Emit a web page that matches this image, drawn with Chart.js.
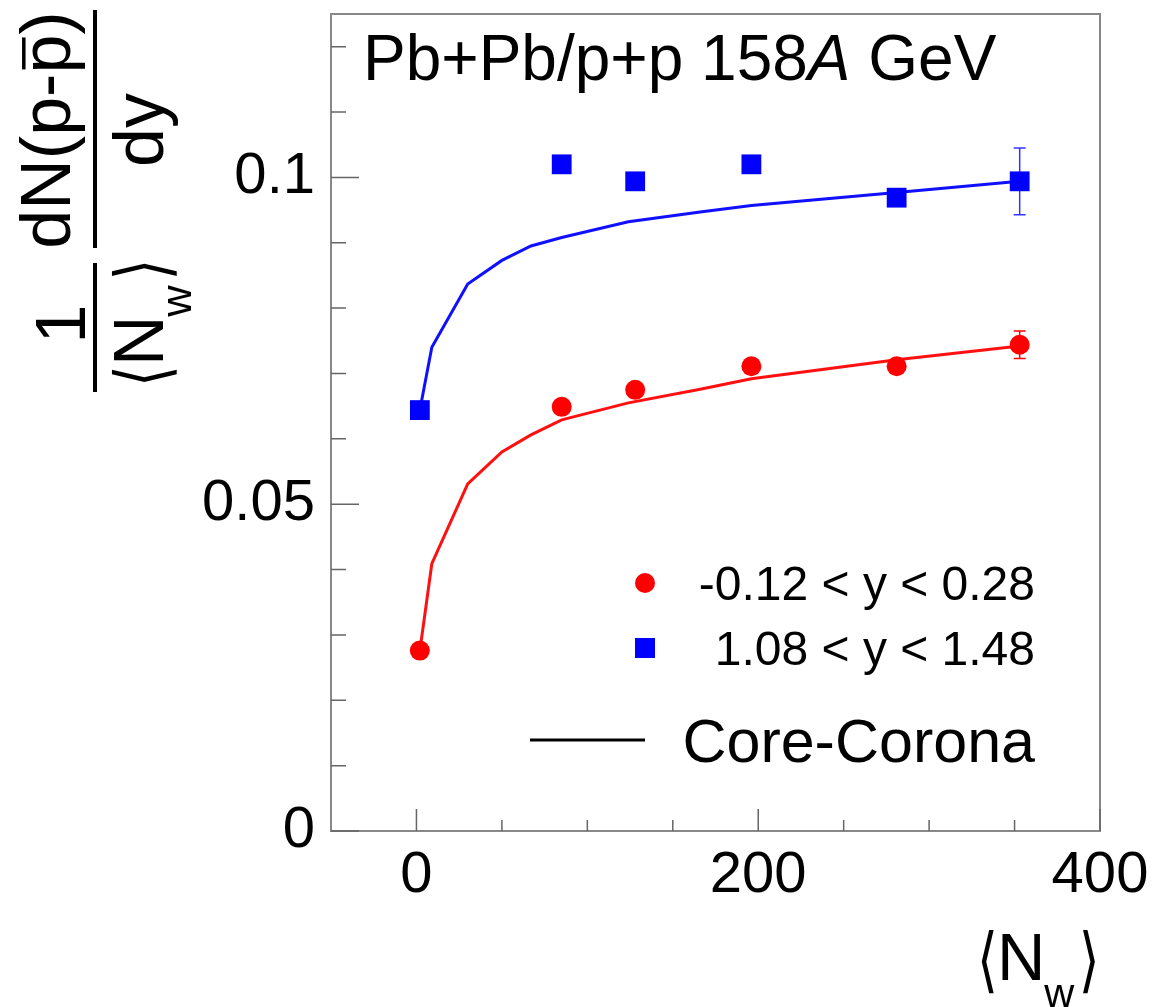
<!DOCTYPE html>
<html>
<head>
<meta charset="utf-8">
<script src="https://cdn.jsdelivr.net/npm/chart.js@4.4.1/dist/chart.umd.min.js"></script>
<style>
  html, body { margin: 0; padding: 0; background: #fff; overflow: hidden; }
  #box { width: 1155px; height: 1007px; }
</style>
</head>
<body>
<div id="box"><canvas id="graph"></canvas></div>
<script>
// mesures : <Nw> des classes de centralite
const nwPoints = [2, 85, 128, 196, 281, 353];
// -0.12 < y < 0.28
const midValues = [0.0276, 0.0649, 0.0675, 0.0711, 0.0711, 0.0744];
const midErrors = [0, 0, 0, 0, 0, 0.0021];
// 1.08 < y < 1.48
const fwdValues = [0.0644, 0.1020, 0.0994, 0.1020, 0.0969, 0.0994];
const fwdErrors = [0, 0, 0, 0, 0, 0.0051];

// courbes Core-Corona
const nwModel = [2, 9, 30, 50, 67, 85, 124, 166, 196, 281, 353];
const midModel = [0.0276, 0.0409, 0.0531, 0.0580, 0.0606, 0.0629, 0.0655, 0.0676, 0.0692, 0.0721, 0.0742];
const fwdModel = [0.0644, 0.0740, 0.0837, 0.0873, 0.0895, 0.0908, 0.0932, 0.0947, 0.0957, 0.0977, 0.0994];

// axes
const xTicks = [0, 200, 400];
const xTickLabels = ["0", "200", "400"];
const xMinorTicks = [50, 100, 150, 250, 300, 350];
const yTicks = [0, 0.05, 0.1];
const yTickLabels = ["0", "0.05", "0.1"];
const yMinorTicks = [0.01, 0.02, 0.03, 0.04, 0.06, 0.07, 0.08, 0.09, 0.11, 0.12];

const FONT = '"Liberation Sans", Arial, Helvetica, sans-serif';

function toPoints(xs, ys) {
    return xs.map((x, i) => ({ x: x, y: ys[i] }));
}

function drawBracket(ctx, ch, x, base, s) {
    ctx.save();
    ctx.font = `${s}px "DejaVu Sans", ${FONT}`;
    const m = ctx.measureText(ch);
    const asc = m.actualBoundingBoxAscent, desc = m.actualBoundingBoxDescent;
    const sy = (0.95 * s) / (asc + desc);
    ctx.translate(x, base + 0.2 * s);
    ctx.scale(0.8, sy);
    ctx.textAlign = "left";
    ctx.fillText(ch, 0, -desc);
    ctx.restore();
}

// <N_w> avec indice
function drawNw(ctx, x0, base, s) {
    ctx.textAlign = "left";
    ctx.textBaseline = "alphabetic";
    drawBracket(ctx, "\u27E8", x0, base, s);
    ctx.font = `${s}px ${FONT}`;
    const nx = x0 + 0.3 * s;
    ctx.fillText("N", nx, base);
    const nWidth = ctx.measureText("N").width;
    ctx.font = `${0.62 * s}px ${FONT}`;
    ctx.fillText("w", nx + nWidth - 0.02 * s, base + 0.4 * s);
    const wWidth = ctx.measureText("w").width;
    drawBracket(ctx, "\u27E9", nx + nWidth + wWidth + 0.05 * s, base, s);
}

function drawYTitle(ctx) {
    const s = 70;
    ctx.save();
    ctx.translate(95, 400);
    ctx.rotate(-Math.PI / 2);
    ctx.fillStyle = "#000";
    ctx.strokeStyle = "#000";
    ctx.lineWidth = 4;
    ctx.beginPath();
    ctx.moveTo(8, 0); ctx.lineTo(137, 0);
    ctx.moveTo(152, 0); ctx.lineTo(390, 0);
    ctx.stroke();

    ctx.font = `${s}px ${FONT}`;
    ctx.textBaseline = "alphabetic";
    ctx.textAlign = "center";
    ctx.fillText("1", 76, -10);
    ctx.fillText("dy", 270, 68);

    // dN(p-pbar)
    const num = "dN(p-p)";
    const total = ctx.measureText(num).width;
    const start = 270 - total / 2;
    ctx.textAlign = "left";
    ctx.fillText(num, start, -25);
    const before = ctx.measureText("dN(p-").width;
    const pw = ctx.measureText("p").width;
    ctx.lineWidth = 3.5;
    ctx.beginPath();
    ctx.moveTo(start + before + 0.06 * s, -25 - 0.66 * s);
    ctx.lineTo(start + before + pw - 0.04 * s, -25 - 0.66 * s);
    ctx.stroke();

    drawNw(ctx, 13, 68, s);
    ctx.restore();
}

const decor = {
    id: "decor",
    beforeDatasetsDraw(chart) {
        const ctx = chart.ctx;
        const xs = chart.scales.x, ys = chart.scales.y;
        const sets = [
            { vals: midValues, errs: midErrors, color: "#ff0000" },
            { vals: fwdValues, errs: fwdErrors, color: "#3333ff" }
        ];
        ctx.save();
        ctx.lineWidth = 1.5;
        for (const set of sets) {
            ctx.strokeStyle = set.color;
            for (let i = 0; i < nwPoints.length; i++) {
                if (!set.errs[i]) continue;
                const px = xs.getPixelForValue(nwPoints[i]);
                const lo = ys.getPixelForValue(set.vals[i] - set.errs[i]);
                const hi = ys.getPixelForValue(set.vals[i] + set.errs[i]);
                ctx.beginPath();
                ctx.moveTo(px, lo); ctx.lineTo(px, hi);
                ctx.moveTo(px - 6, lo); ctx.lineTo(px + 6, lo);
                ctx.moveTo(px - 6, hi); ctx.lineTo(px + 6, hi);
                ctx.stroke();
            }
        }
        ctx.restore();
    },
    afterDatasetsDraw(chart) {
        const ctx = chart.ctx;
        const a = chart.chartArea;
        const xs = chart.scales.x, ys = chart.scales.y;
        ctx.save();
        // cadre
        ctx.strokeStyle = "#888";
        ctx.lineWidth = 2;
        ctx.strokeRect(a.left, a.top, a.right - a.left, a.bottom - a.top);
        // graduations vers l'interieur
        ctx.strokeStyle = "#666";
        ctx.lineWidth = 1.5;
        ctx.beginPath();
        for (const v of yTicks) {
            const py = ys.getPixelForValue(v);
            ctx.moveTo(a.left, py); ctx.lineTo(a.left + 28, py);
        }
        for (const v of yMinorTicks) {
            const py = ys.getPixelForValue(v);
            ctx.moveTo(a.left, py); ctx.lineTo(a.left + 15, py);
        }
        for (const v of xTicks) {
            const px = xs.getPixelForValue(v);
            ctx.moveTo(px, a.bottom); ctx.lineTo(px, a.bottom - 22);
        }
        for (const v of xMinorTicks) {
            const px = xs.getPixelForValue(v);
            ctx.moveTo(px, a.bottom); ctx.lineTo(px, a.bottom - 11);
        }
        ctx.stroke();
        ctx.restore();
    },
    afterDraw(chart) {
        const ctx = chart.ctx;
        ctx.save();
        ctx.fillStyle = "#000";
        ctx.textBaseline = "alphabetic";

        // titre
        ctx.textAlign = "left";
        let x = 363;
        ctx.font = `64px ${FONT}`;
        ctx.fillText("Pb+Pb/p+p 158", x, 80);
        x += ctx.measureText("Pb+Pb/p+p 158").width;
        ctx.font = `italic 64px ${FONT}`;
        ctx.fillText("A", x, 80);
        x += ctx.measureText("A").width;
        ctx.font = `64px ${FONT}`;
        ctx.fillText(" GeV", x, 80);

        // legende
        ctx.fillStyle = "#ff0000";
        ctx.beginPath();
        ctx.arc(645, 583, 10, 0, Math.PI * 2);
        ctx.fill();
        ctx.fillStyle = "#0000ff";
        ctx.fillRect(635, 638, 20, 20);
        ctx.strokeStyle = "#000";
        ctx.lineWidth = 3;
        ctx.beginPath();
        ctx.moveTo(530, 740); ctx.lineTo(645, 740);
        ctx.stroke();

        ctx.fillStyle = "#000";
        ctx.textAlign = "right";
        ctx.font = `48px ${FONT}`;
        ctx.fillText("-0.12 < y < 0.28", 1035, 600);
        ctx.fillText("1.08 < y < 1.48", 1035, 665);
        ctx.font = `61px ${FONT}`;
        ctx.fillText("Core-Corona", 1035, 762);

        // titres des axes
        drawNw(ctx, 977, 980, 67);
        drawYTitle(ctx);
        ctx.restore();
    }
};

new Chart(document.querySelector("#graph"), {
    type: "scatter",
    data: {
        datasets: [
            {
                label: "-0.12 < y < 0.28",
                data: toPoints(nwPoints, midValues),
                pointStyle: "circle",
                pointRadius: 10,
                backgroundColor: "#ff0000",
                borderWidth: 0,
                order: 0
            },
            {
                label: "1.08 < y < 1.48",
                data: toPoints(nwPoints, fwdValues),
                pointStyle: "rect",
                pointRadius: 14,
                backgroundColor: "#0000ff",
                borderWidth: 0,
                order: 0
            },
            {
                label: "Core-Corona",
                data: toPoints(nwModel, midModel),
                showLine: true,
                borderColor: "#ff1010",
                borderWidth: 3,
                pointRadius: 0,
                tension: 0,
                order: 1
            },
            {
                label: "Core-Corona",
                data: toPoints(nwModel, fwdModel),
                showLine: true,
                borderColor: "#1010ff",
                borderWidth: 3,
                pointRadius: 0,
                tension: 0,
                order: 1
            }
        ]
    },
    options: {
        responsive: true,
        maintainAspectRatio: false,
        animation: false,
        layout: { padding: { top: 11, right: 55, left: 0, bottom: 0 } },
        plugins: { legend: { display: false }, tooltip: { enabled: false } },
        scales: {
            x: {
                type: "linear",
                min: -50,
                max: 400,
                grid: { display: false },
                border: { display: false },
                afterBuildTicks: (s) => { s.ticks = xTicks.map(v => ({ value: v })); },
                afterFit: (s) => {
                    s.height = 176;
                    s.paddingLeft = 0; s.paddingRight = 0; s.paddingTop = 0; s.paddingBottom = 0;
                },
                ticks: {
                    font: { family: FONT, size: 58 },
                    color: "#000",
                    padding: 2,
                    maxRotation: 0,
                    autoSkip: false,
                    callback: (v, i) => xTickLabels[i]
                }
            },
            y: {
                type: "linear",
                min: 0,
                max: 0.125,
                grid: { display: false },
                border: { display: false },
                afterBuildTicks: (s) => { s.ticks = yTicks.map(v => ({ value: v })); },
                afterFit: (s) => {
                    s.width = 331;
                    s.paddingLeft = 0; s.paddingRight = 0; s.paddingTop = 0; s.paddingBottom = 0;
                },
                ticks: {
                    font: { family: FONT, size: 58 },
                    color: "#000",
                    padding: 8,
                    autoSkip: false,
                    callback: (v, i) => yTickLabels[i]
                }
            }
        }
    },
    plugins: [decor]
});
</script>
</body>
</html>
